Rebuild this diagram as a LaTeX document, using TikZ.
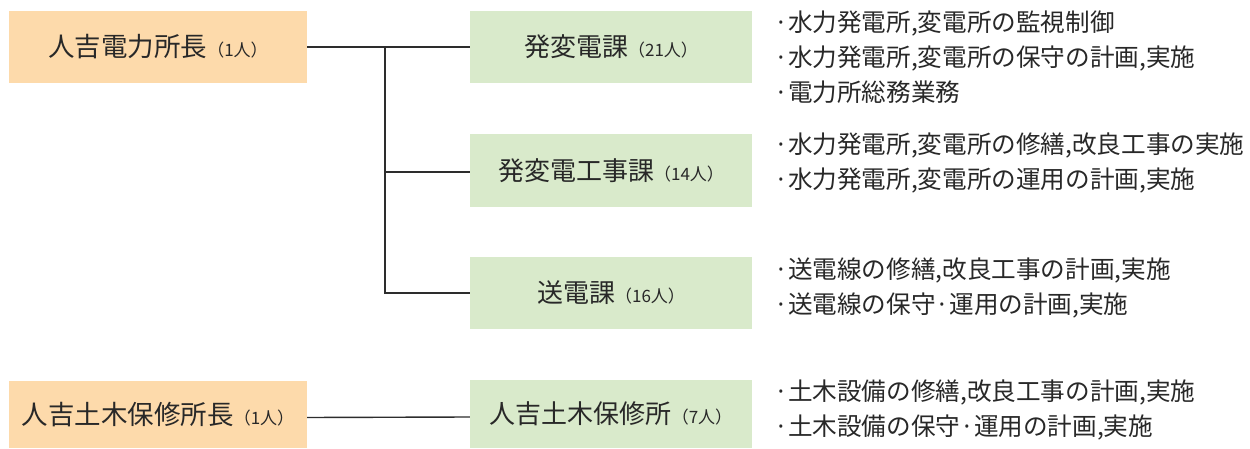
\documentclass[tikz,border=0pt]{standalone}
\usepackage{fontspec}
\setmainfont{Noto Sans CJK JP}
\definecolor{orgbox}{RGB}{253,218,171}
\definecolor{grnbox}{RGB}{217,234,203}
\definecolor{txt}{RGB}{40,40,40}
\definecolor{lnc}{RGB}{45,45,45}
\tikzset{
  headbox/.style={fill=orgbox,draw=none,minimum width=298pt,inner sep=0pt,text=txt,font=\fontsize{26.5}{30}\selectfont},
  unitbox/.style={fill=grnbox,draw=none,minimum width=282pt,inner sep=0pt,text=txt,font=\fontsize{26}{30}\selectfont},
  duty/.style={anchor=west,inner sep=0pt,align=left,text=txt,font=\fontsize{24.6}{35}\selectfont},
  link/.style={draw=lnc,line width=1.4pt},
}
\newcommand{\ppl}[1]{{\fontsize{17}{17}\selectfont （#1人）}}
\begin{document}
\begin{tikzpicture}[x=1pt,y=-1pt]
\useasboundingbox (0,0) rectangle (1250,449);
\fill[white] (0,0) rectangle (1250,449);
% boxes
\node[headbox,minimum height=72pt] (o1) at (158,47) {人吉電力所長\ppl{1}};
\node[unitbox,minimum height=72pt] (g1) at (611,47) {発変電課\ppl{21}};
\node[unitbox,minimum height=73pt] (g2) at (611,170.5) {発変電工事課\ppl{14}};
\node[unitbox,minimum height=72pt] (g3) at (611,293) {送電課\ppl{16}};
\node[headbox,minimum height=67pt] (o2) at (158,414.5) {人吉土木保修所長\ppl{1}};
\node[unitbox,minimum height=68pt] (g4) at (611,414) {人吉土木保修所\ppl{7}};
% duties
\node[duty] (d1) at (774,57.5) {·水力発電所,変電所の監視制御\\·水力発電所,変電所の保守の計画,実施\\·電力所総務業務};
\node[duty] (d2) at (774,162.5) {·水力発電所,変電所の修繕,改良工事の実施\\·水力発電所,変電所の運用の計画,実施};
\node[duty] (d3) at (774,287.5) {·送電線の修繕,改良工事の計画,実施\\·送電線の保守·運用の計画,実施};
\node[duty] (d4) at (774,410) {·土木設備の修繕,改良工事の計画,実施\\·土木設備の保守·運用の計画,実施};
% connectors
\coordinate (j) at (385,47);
\draw[link] (o1.east) -- (g1.west);
\draw[link] (j) |- (g3.west);
\draw[link] ([yshift=-1.5pt]j |- g2.west) -- ([yshift=-1.5pt]g2.west);
\draw[link] ([yshift=-3pt]o2.east) -- ([yshift=-3pt]g4.west);
\end{tikzpicture}
\end{document}
